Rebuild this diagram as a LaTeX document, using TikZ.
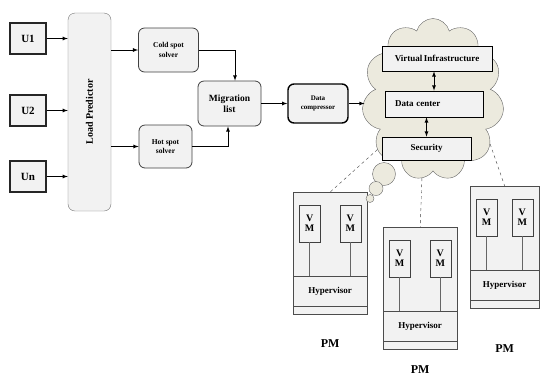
\documentclass[tikz,border=0pt]{standalone}
\usepackage{fontspec}
\setmainfont{Liberation Serif}
\usetikzlibrary{shapes.symbols}

\definecolor{boxgray}{RGB}{242,242,242}
\definecolor{cloudtan}{RGB}{236,234,222}
\newcommand{\fs}[1]{\bfseries\fontsize{#1}{#1}\selectfont}

\begin{document}
\begin{tikzpicture}[x=1pt, y=-1pt, font=\bfseries,
		user/.style={draw=black!85, line width=1.1pt, fill=boxgray, minimum width=36pt, minimum height=31pt, inner sep=0pt, font=\fs{11}},
		solver/.style={draw=black!75, line width=0.8pt, fill=boxgray, rounded corners=6pt, inner sep=0pt, align=center, font=\fs{7.5}},
		layer/.style={draw=black, line width=0.8pt, fill=boxgray, inner sep=0pt, font=\fs{9}},
		pm/.style={draw=black!70, fill=boxgray, minimum height=122pt, inner sep=0pt},
		hyper/.style={draw=black!70, fill=boxgray, minimum height=30pt, inner sep=0pt, font=\fs{9}},
		vmbox/.style={draw=black!75, fill=boxgray, minimum width=21pt, minimum height=37pt, inner sep=0pt, align=center, font=\fs{10}},
		arr/.style={-latex, line width=0.8pt},
		dbl/.style={latex-latex, line width=0.8pt},
		wire/.style={draw=black!60, line width=0.8pt},
		puff/.style={circle, draw=black!60, fill=cloudtan, inner sep=0pt}]
		\useasboundingbox (0,0) rectangle (540,376);

		% users and predictor
		\node[user] (u1) at (28,38.5) {U1};
		\node[user] (u2) at (28,110.5) {U2};
		\node[user] (un) at (28,176.5) {Un};
		\node[draw=black!55, fill=boxgray, rounded corners=7pt, minimum width=43pt, minimum height=198pt, inner sep=0pt] (lp) at (89.5,112) {};
		\node[rotate=90, font=\fs{10}] (lplabel) at (lp) {Load Predictor};

		\draw[arr] (u1.east) -- (u1.east -| lp.west);
		\draw[arr] (u2.east) -- (u2.east -| lp.west);
		\draw[arr] (un.east) -- (un.east -| lp.west);

		% solvers
		\node[solver, minimum width=60pt, minimum height=44pt] (cold) at (168.5,50) {Cold spot\\[2pt]solver};
		\node[solver, minimum width=53pt, minimum height=43pt] (hot) at (165.5,146.5) {Hot spot\\[2pt]solver};
		\node[solver, minimum width=63pt, minimum height=45pt, font=\fs{9.5}] (mig) at (229.5,103.5) {Migration\\[2pt]list};
		\node[solver, draw=black, line width=1.4pt, minimum width=60pt, minimum height=39pt, font=\fs{7}] (comp) at (318,103.5) {Data\\[2pt]compressor};

		\draw[arr] (lp.east |- cold) -- (cold.west);
		\draw[arr] (lp.east |- hot) -- (hot.west);
		\draw[arr] (cold.east) -| ([xshift=5.5pt]mig.north);
		\draw[arr] (hot.east) -| ([xshift=-1.5pt]mig.south);
		\draw[arr] (mig.east) -- (comp.west);

		% physical machines
		\foreach \n/\x/\y/\w/\d in {1/293/192/74/29, 2/383/227/74/20, 3/470/186/69/40} {
			\node[pm, minimum width=\w pt, anchor=north west] (pm\n) at (\x,\y) {};
			\node[hyper, minimum width=\w pt, anchor=north west] (hv\n) at (\x,{\y+84}) {Hypervisor};
			\node[vmbox, anchor=north west] (vma\n) at ({\x+6},{\y+13}) {V\\M};
			\node[vmbox, anchor=north east] (vmb\n) at ({\x+\w-6},{\y+13}) {V\\M};
			\draw[wire] (vma\n.south) -- (vma\n.south |- hv\n.north);
			\draw[wire] (vmb\n.south) -- (vmb\n.south |- hv\n.north);
			\node[font=\fs{12}] (pmlabel\n) at ([yshift=-\d pt]pm\n.south) {PM};
		}

		% cloud
		\node[puff, minimum size=23pt] (b1) at (384,174) {};
		\node[puff, minimum size=14pt] (b2) at (376,188.5) {};
		\node[puff, minimum size=8pt] (b3) at (370,198.5) {};
		\node[cloud, cloud puffs=11, draw=black!60, fill=cloudtan, minimum width=142pt, minimum height=162pt] (cl) at (433,99.5) {};

		\node[layer, minimum width=110pt, minimum height=25pt] (vi) at (437,58.5) {Virtual\,Infrastructure};
		\node[layer, minimum height=26pt, text width=78pt, inner xsep=10pt, align=left] (dc) at (434,104) {Data center};
		\node[layer, minimum width=89pt, minimum height=23pt] (sec) at (426.5,148.5) {Security};

		\draw[dbl] (vi.south -| dc.north) -- (dc.north);
		\draw[dbl] (dc.south -| sec.north) -- (sec.north);
		\draw[arr] (comp.east) -- (comp.east -| cl.west);

		\draw[dashed, black!75] (cl.222) -- (pm1.north);
		\draw[dashed, black!75] (cl.262) -- (pm2.north);
		\draw[dashed, black!75] (cl.322) -- (pm3.north);
	\end{tikzpicture}
\end{document}
